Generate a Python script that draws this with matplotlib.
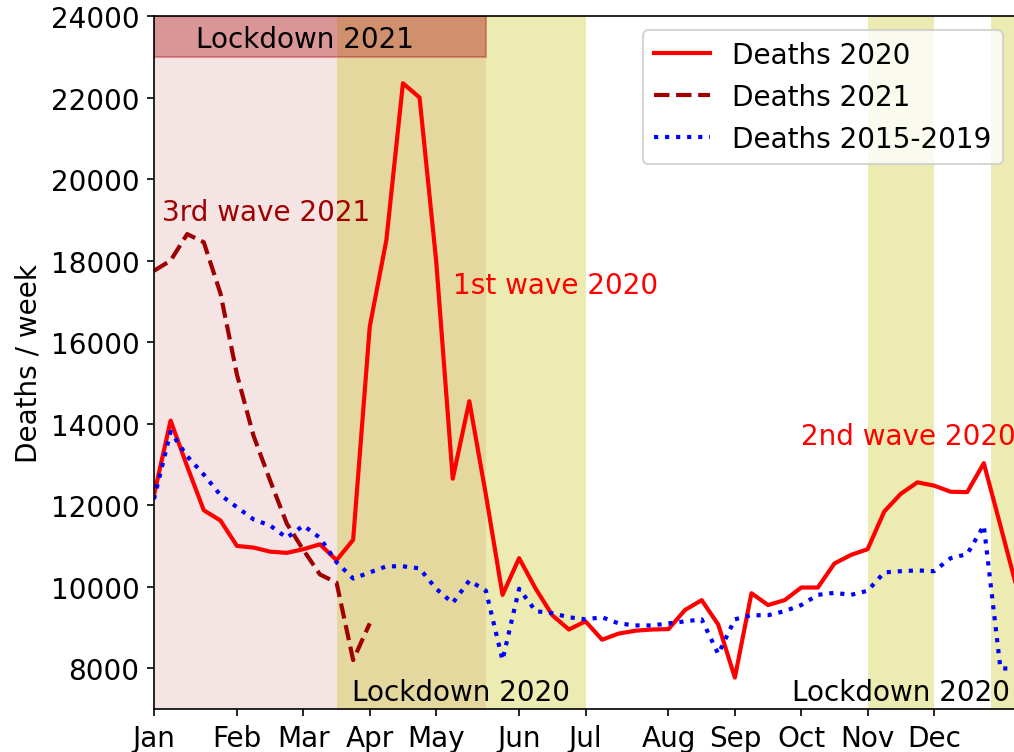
import numpy as np
import matplotlib
matplotlib.use('Agg')
import matplotlib.pyplot as plt
from matplotlib.patches import Rectangle

# weekly deaths, week 0 = start of January
deaths_2020 = [12250, 14075, 12950, 11875, 11625, 11000, 10960, 10860, 10830, 10920,
               11040, 10650, 11150, 16380, 18500, 22350, 22000, 18000, 12650, 14550,
               12250, 9800, 10700, 9950, 9300, 8950, 9150, 8700, 8850, 8920,
               8950, 8960, 9430, 9670, 9070, 7770, 9840, 9550, 9670, 9980,
               9980, 10570, 10780, 10920, 11845, 12280, 12560, 12480, 12330, 12320,
               13030, 11500, 9950]
deaths_2021 = [17750, 18000, 18650, 18450, 17200, 15200, 13700, 12600, 11550, 10900,
               10300, 10100, 8200, 9100]
deaths_1519 = [12150, 13800, 13200, 12750, 12250, 11950, 11650, 11500, 11200, 11500,
               11200, 10600, 10200, 10350, 10500, 10500, 10450, 9950, 9600, 10150,
               9900, 8200, 9950, 9400, 9350, 9250, 9200, 9250, 9100, 9050,
               9050, 9100, 9150, 9200, 8350, 9200, 9300, 9300, 9400, 9550,
               9800, 9850, 9800, 9900, 10350, 10380, 10400, 10380, 10700, 10800,
               11500, 8000, 7980]

month_weeks = [0, 5, 9, 13, 17, 22, 26, 31, 35, 39, 43, 47]
month_names = ['Jan', 'Feb', 'Mar', 'Apr', 'May', 'Jun', 'Jul', 'Aug', 'Sep', 'Oct', 'Nov', 'Dec']

lockdown_2020 = [(11, 26), (43, 47), (50.45, 53)]
lockdown_2021 = (0, 20)

plt.rcParams['font.size'] = 13.4

fig = plt.figure(figsize=(6.76, 5.02), dpi=150)
ax = fig.add_axes([154/1014, 1-710/753, (1017-154)/1014, (710-17)/753])

w20 = np.arange(len(deaths_2020))
w21 = np.arange(len(deaths_2021))
w1519 = np.arange(len(deaths_1519))

# lockdown spans
ax.axvspan(*lockdown_2021, color='firebrick', alpha=0.12, lw=0)
for a, b in lockdown_2020:
    ax.axvspan(a, b, color='y', alpha=0.3, lw=0)
ax.add_patch(Rectangle((lockdown_2021[0], 23000), lockdown_2021[1]-lockdown_2021[0], 1000,
                       facecolor='firebrick', edgecolor='firebrick', alpha=0.4, lw=1))

ax.plot(w20, deaths_2020, 'r-', lw=2, label='Deaths 2020')
ax.plot(w21, deaths_2021, '--', color='#a00000', lw=2, label='Deaths 2021')
ax.plot(w1519, deaths_1519, 'b:', lw=2, label='Deaths 2015-2019')

ax.text(9.1, 23230, 'Lockdown 2021', ha='center', va='baseline')
ax.text(18.5, 7220, 'Lockdown 2020', ha='center', va='baseline')
ax.text(45, 7220, 'Lockdown 2020', ha='center', va='baseline')
ax.text(0.5, 19000, '3rd wave 2021', color='#a00000', ha='left', va='baseline')
ax.text(18, 17200, '1st wave 2020', color='r', ha='left', va='baseline')
ax.text(39, 13500, '2nd wave 2020', color='r', ha='left', va='baseline')

ax.set_xlim(0, 52)
ax.set_ylim(7000, 24000)
ax.set_xticks(month_weeks)
ax.set_xticklabels(month_names)
ax.set_yticks(np.arange(8000, 24001, 2000))
ax.set_ylabel('Deaths / week')
ax.legend(loc='upper right')

plt.savefig('out.png', dpi=150)
